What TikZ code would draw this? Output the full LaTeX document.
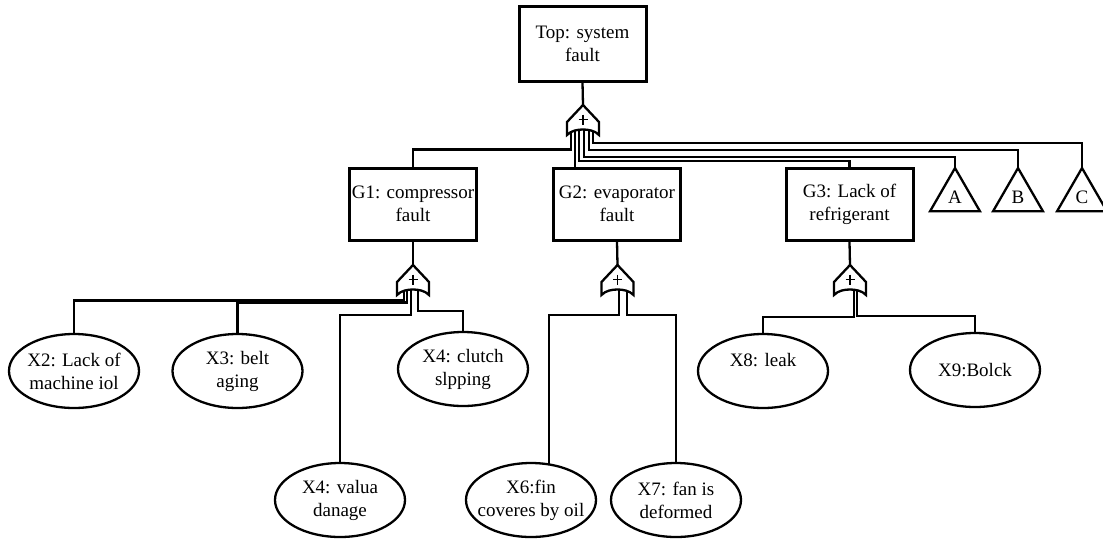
\documentclass[tikz,border=0pt]{standalone}
\usepackage{fontspec}
\setmainfont{Liberation Serif}
\usetikzlibrary{shapes.geometric,calc}
\newcommand{\fsz}{\fontsize{19pt}{23pt}\selectfont}
\tikzset{
  every node/.style={font=\fsz},
  conn/.style={line width=2.3pt},
  box/.style={draw, line width=3pt, minimum width=127pt, minimum height=72pt, inner sep=0pt, align=center},
  ev/.style={ellipse, draw, line width=2.3pt, minimum width=130pt, minimum height=74pt, inner sep=0pt, outer sep=0pt},
  lab/.style={align=center, inner sep=0pt},
  tri/.style={regular polygon, regular polygon sides=3, minimum size=57.7pt, inner sep=0pt, outer sep=0pt, draw, line width=2.3pt},
  orgate/.pic={
    \draw[line width=2.3pt, fill=white] (0,0) -- (16,17) -- (16,30)
      .. controls (12,25.5) and (5,24.5) .. (0,24.5)
      .. controls (-5,24.5) and (-12,25.5) .. (-16,30) -- (-16,17) -- cycle;
    \draw[line width=1.5pt] (-4.5,14.5) -- (4.5,14.5) (0,9.5) -- (0,19.5);
  }
}
\begin{document}
\begin{tikzpicture}[x=1pt,y=-1pt]
\useasboundingbox (0,0) rectangle (1103,542);

% events
\node[box, minimum height=75pt] (top) at (582.5,43.5) {Top: system\\fault};
\node[box] (g1) at (413,204) {G1: compressor\\fault};
\node[box] (g2) at (617,204) {G2: evaporator\\fault};
\node[box] (g3) at (849.5,204.5) {G3: Lack of\\refrigerant};

\node[tri] (A) at (955,196.9) {A};
\node[tri] (B) at (1018,196.9) {B};
\node[tri] (C) at (1082,196.9) {C};

\node[ev, label={[lab]center:{X2: Lack of\\machine iol}}] (x2) at (74,371) {};
\node[ev, label={[lab]center:{X3: belt\\aging}}] (x3) at (237.5,371) {};
\node[ev, label={[lab]center:{X4: clutch\\slpping}}] (x4c) at (463,369) {};
\node[ev, label={[lab]center:{X4: valua\\danage}}] (x4v) at (340,500) {};
\node[ev, label={[lab]center:{X6:fin\\coveres by oil}}] (x6) at (531,500) {};
\node[ev, label={[lab]center:{X7: fan is\\deformed}}] (x7) at (676,500) {};
\node[ev, label={[lab,yshift=11pt]center:{X8: leak}}] (x8) at (763,371) {};
\node[ev, label={[lab]center:{X9:Bolck}}] (x9) at (975,370) {};

% gates
\coordinate (tg) at (583,105);
\coordinate (ga) at (413,265);
\coordinate (gb) at (617.5,265);
\coordinate (gc) at (850,265);

% connectors from top gate
\draw[conn] (top.south) -- (tg);
\draw[conn] ($(tg)+(-12,24)$) |- ($(g1.north)+(0,-17)$) -- (g1.north);
\coordinate (tg2) at ($(tg)+(-8,24)$);
\draw[conn] (tg2) -- (tg2 |- g2.north);
\draw[conn] ($(tg)+(-4,24)$) |- ($(g3.north)+(0,-6)$) -- (g3.north);
\draw[conn] ($(tg)+(1,24)$) |- ($(A.north)+(0,-11)$) -- (A.north);
\draw[conn] ($(tg)+(6,24)$) |- ($(B.north)+(0,-18)$) -- (B.north);
\draw[conn] ($(tg)+(10,24)$) |- ($(C.north)+(0,-25)$) -- (C.north);

% G1 gate
\draw[conn] (g1.south) -- (ga);
\draw[conn] ($(ga)+(-9,24)$) |- ($(x2.north)+(0,-33.5)$) -- (x2.north);
\draw[conn] ($(ga)+(-6,24)$) |- ($(x3.north)+(0,-31.5)$) -- (x3.north);
\draw[conn] ($(ga)+(-2,24)$) |- ($(x4v.north)+(0,-148)$) -- (x4v.north);
\draw[conn] ($(ga)+(5,24)$) |- ($(x4c.north)+(0,-21)$) -- (x4c.north);

% G2 gate
\draw[conn] (g2.south) -- (gb);
\draw[conn] ($(gb)+(1.5,24)$) |- ($(x6.north)+(18,-148)$) -- ($(x6.north)+(18,1.5)$);
\draw[conn] ($(gb)+(9.5,24)$) |- ($(x7.north)+(0,-148)$) -- (x7.north);

% G3 gate
\draw[conn] (g3.south) -- (gc);
\draw[conn] ($(gc)+(4,24)$) |- ($(x8.north)+(0,-17)$) -- (x8.north);
\draw[conn] ($(gc)+(7,24)$) |- ($(x9.north)+(0,-17)$) -- (x9.north);

% gate symbols
\pic at (tg) {orgate};
\pic at (ga) {orgate};
\pic at (gb) {orgate};
\pic at (gc) {orgate};
\end{tikzpicture}
\end{document}
